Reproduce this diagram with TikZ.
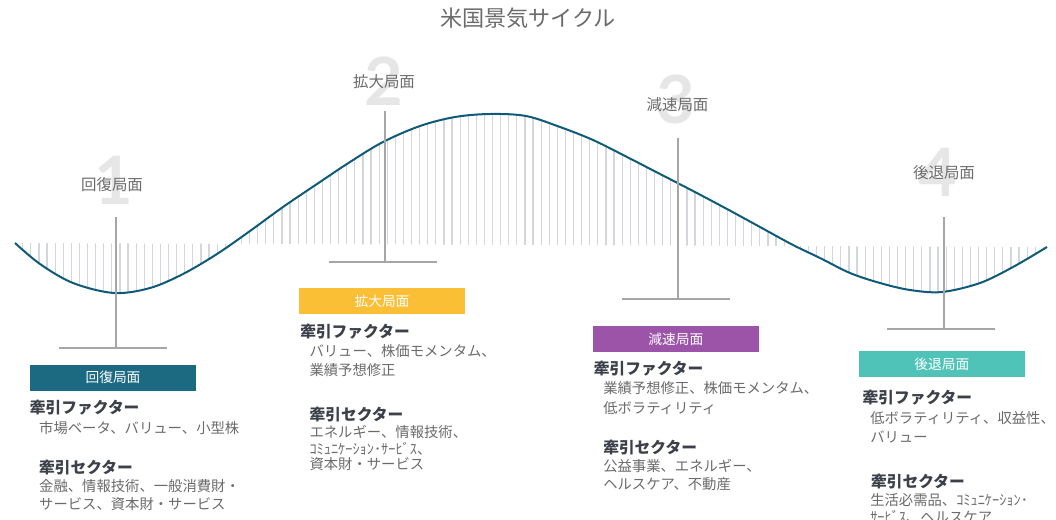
\documentclass[tikz,border=0pt]{standalone}
\usepackage{fontspec}
\newfontfamily\jp{Noto Sans CJK JP}
\newfontfamily\numfont{Lato}
\definecolor{curvecol}{HTML}{0E5A78}
\definecolor{hatchcol}{HTML}{D3D7DD}
\definecolor{markcol}{HTML}{A6A6A6}
\definecolor{numcol}{HTML}{E6E6E6}
\definecolor{labelgray}{HTML}{6B6B6B}
\definecolor{bodygray}{HTML}{6A6A6A}
\definecolor{headgray}{HTML}{3C4049}
\definecolor{boxA}{HTML}{1C6A82}
\definecolor{boxB}{HTML}{FBBF36}
\definecolor{boxC}{HTML}{9B54A7}
\definecolor{boxD}{HTML}{4FC3B7}
\begin{document}
\begin{tikzpicture}[x=0.75pt,y=-0.75pt,
  body/.style={anchor=west,inner sep=0pt,font=\jp\fontsize{10.75}{12}\selectfont,text=bodygray},
  head/.style={anchor=west,inner sep=0pt,font=\jp\bfseries\fontsize{11.8}{13}\selectfont,text=headgray},
  phasebox/.style={minimum width=124.5pt,minimum height=19.5pt,inner sep=0pt,text=white,font=\jp\fontsize{10.3}{12}\selectfont},
  phaselabel/.style={inner sep=0pt,text=labelgray,font=\jp\fontsize{11.6}{13}\selectfont},
  bignum/.style={inner sep=0pt,text=numcol,font=\numfont\bfseries\fontsize{50}{50}\selectfont},
  hatch/.style={draw=hatchcol,line width=0.9pt},
  wave/.style={draw=curvecol,line width=1.5pt},
  marker/.style={draw=markcol,line width=1.9pt}]
\useasboundingbox (0,0) rectangle (1056,520);
% title
\node[inner sep=0pt,text=labelgray,font=\jp\fontsize{16.6}{20}\selectfont] (title) at (528,18.5) {米国景気サイクル};
% big numbers
\node[bignum] (n1) at (114,180) {1};
\node[bignum] (n2) at (384,81) {2};
\node[bignum] (n3) at (676,99.5) {3};
\node[bignum] (n4) at (938,172.5) {4};
% phase labels
\node[phaselabel] (l1) at (112,185) {回復局面};
\node[phaselabel] (l2) at (384,82) {拡大局面};
\node[phaselabel] (l3) at (677.5,105) {減速局面};
\node[phaselabel] (l4) at (944,173) {後退局面};
% hatching
\begin{scope}
\clip plot[smooth,tension=0.55] coordinates {(15,243) (40,264) (73,283) (114,293) (150,288) (183,274) (217,254) (250,231) (283,207) (317,184) (350,162) (383,142) (420,126) (455,117) (490,114) (526,116) (560,127) (593,140) (627,157) (660,174) (693,191) (727,209) (760,227) (793,245) (820,258) (850,273) (880,283) (910,290) (942,292) (980,283) (1013,267) (1047,247)} -- (15,243) -- cycle;
\foreach \x in {22.7,30.8,...,1050} \draw[hatch] (\x,100) -- (\x,300);
\end{scope}
% wave
\draw[wave] plot[smooth,tension=0.55] coordinates {(15,243) (40,264) (73,283) (114,293) (150,288) (183,274) (217,254) (250,231) (283,207) (317,184) (350,162) (383,142) (420,126) (455,117) (490,114) (526,116) (560,127) (593,140) (627,157) (660,174) (693,191) (727,209) (760,227) (793,245) (820,258) (850,273) (880,283) (910,290) (942,292) (980,283) (1013,267) (1047,247)};
% markers
\draw[marker] (116,217) -- (116,348) (59,348) -- (167,348);
\draw[marker] (385,111) -- (385,262) (329,262) -- (437,262);
\draw[marker] (678,138) -- (678,299) (622,299) -- (730,299);
\draw[marker] (944,217) -- (944,329) (887,329) -- (995,329);
% boxes
\node[phasebox,fill=boxA] (b1) at (113,377.6) {回復局面};
\node[phasebox,fill=boxB] (b2) at (382,301.4) {拡大局面};
\node[phasebox,fill=boxC] (b3) at (675.8,339) {減速局面};
\node[phasebox,fill=boxD] (b4) at (941.8,364.3) {後退局面};
% block 1
\node[head] (h1a) at (29.7,407.7) {牽引ファクター};
\node[body] (t1a) at (38.9,428) {市場ベータ、バリュー、小型株};
\node[head] (h1b) at (38.9,467.2) {牽引セクター};
\node[body] (t1b) at (38.9,486.5) {金融、情報技術、一般消費財・};
\node[body] (t1c) at (38.9,504) {サービス、資本財・サービス};
% block 2
\node[head] (h2a) at (300,331.7) {牽引ファクター};
\node[body] (t2a) at (309.3,351.3) {バリュー、株価モメンタム、};
\node[body] (t2b) at (309.3,370.5) {業績予想修正};
\node[head] (h2b) at (309.3,414.8) {牽引セクター};
\node[body] (t2c) at (309.3,432.4) {エネルギー、情報技術、};
\node[body] (t2d) at (309.3,448.6) {ｺﾐｭﾆｹｰｼｮﾝ･ｻｰﾋﾞｽ、};
\node[body] (t2e) at (309.3,463.8) {資本財・サービス};
% block 3
\node[head] (h3a) at (593.6,368.8) {牽引ファクター};
\node[body] (t3a) at (603,387.8) {業績予想修正、株価モメンタム、};
\node[body] (t3b) at (603,408) {低ボラティリティ};
\node[head] (h3b) at (603,447.6) {牽引セクター};
\node[body] (t3c) at (603,466.2) {公益事業、エネルギー、};
\node[body] (t3d) at (603,483.8) {ヘルスケア、不動産};
% block 4
\node[head] (h4a) at (862.3,397.9) {牽引ファクター};
\node[body] (t4a) at (870,417.8) {低ボラティリティ、収益性、};
\node[body] (t4b) at (870,436.8) {バリュー};
\node[head] (h4b) at (870.8,481.4) {牽引セクター};
\node[body] (t4c) at (870,500) {生活必需品、ｺﾐｭﾆｹｰｼｮﾝ･};
\node[body] (t4d) at (870,516.5) {ｻｰﾋﾞｽ、ヘルスケア};
\end{tikzpicture}
\end{document}
